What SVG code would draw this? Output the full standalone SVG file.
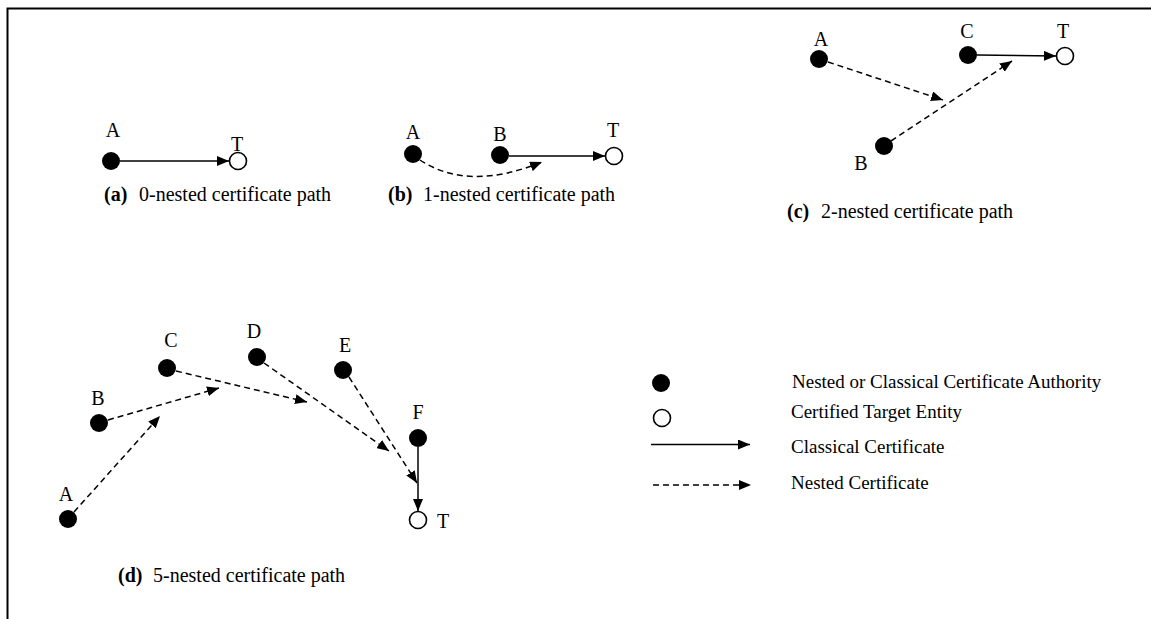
<svg xmlns="http://www.w3.org/2000/svg" width="1151" height="619" viewBox="0 0 1151 619">
  <style>
    text { font-family: "Liberation Serif", "Times New Roman", serif; fill: #000; }
    .lbl { font-size: 20px; text-anchor: middle; }
    .cap { font-size: 20px; }
    .cap .b { font-weight: bold; }
    .leg { font-size: 19px; }
    .ca { fill: #000; }
    .te { fill: #fff; stroke: #000; stroke-width: 1.6; }
    .classical { fill: none; stroke: #000; stroke-width: 1.5; marker-end: url(#head); }
    .nested { fill: none; stroke: #000; stroke-width: 1.5; stroke-dasharray: 6 4; marker-end: url(#head); }
    .frame { fill: none; stroke: #000; stroke-width: 2; }
  </style>
  <defs>
    <marker id="head" viewBox="0 0 12 10" refX="12" refY="5" markerWidth="12" markerHeight="10" markerUnits="userSpaceOnUse" orient="auto">
      <path d="M0,0 L12,5 L0,10 Z" fill="#000"/>
    </marker>
  </defs>

  <rect width="1151" height="619" fill="#fff"/>
  <!-- frame: top and left rules -->
  <path class="frame" d="M7.5,619 L7.5,8.5 L1151,8.5"/>

  <!-- (a) 0-nested path -->
  <g id="a-A"><circle class="ca" cx="111" cy="161" r="9"/><text class="lbl" x="113" y="137">A</text></g>
  <g id="a-T"><circle class="te" cx="238" cy="161" r="8.5"/><text class="lbl" x="237" y="151">T</text></g>
  <text id="cap-a" class="cap" x="104" y="201"><tspan class="b">(a)</tspan><tspan x="139">0-nested certificate path</tspan></text>

  <!-- (b) 1-nested path -->
  <g id="b-A"><circle class="ca" cx="413" cy="154" r="9"/><text class="lbl" x="413" y="139">A</text></g>
  <g id="b-B"><circle class="ca" cx="500" cy="155" r="9"/><text class="lbl" x="500" y="141">B</text></g>
  <g id="b-T"><circle class="te" cx="614" cy="156" r="8.5"/><text class="lbl" x="613" y="137">T</text></g>
  <text id="cap-b" class="cap" x="388" y="201"><tspan class="b">(b)</tspan><tspan x="423">1-nested certificate path</tspan></text>

  <!-- (c) 2-nested path -->
  <g id="c-A"><circle class="ca" cx="819" cy="59" r="9"/><text class="lbl" x="821" y="46">A</text></g>
  <g id="c-B"><circle class="ca" cx="884" cy="146" r="9"/><text class="lbl" x="861" y="170">B</text></g>
  <g id="c-C"><circle class="ca" cx="968" cy="55" r="9"/><text class="lbl" x="967" y="38">C</text></g>
  <g id="c-T"><circle class="te" cx="1065" cy="56" r="8.5"/><text class="lbl" x="1063" y="38">T</text></g>
  <text id="cap-c" class="cap" x="787" y="218"><tspan class="b">(c)</tspan><tspan x="821">2-nested certificate path</tspan></text>

  <!-- (d) 5-nested path -->
  <g id="d-A"><circle class="ca" cx="68" cy="519" r="9"/><text class="lbl" x="66" y="501">A</text></g>
  <g id="d-B"><circle class="ca" cx="99" cy="423" r="9"/><text class="lbl" x="98" y="405">B</text></g>
  <g id="d-C"><circle class="ca" cx="167" cy="368" r="9"/><text class="lbl" x="171" y="347">C</text></g>
  <g id="d-D"><circle class="ca" cx="257" cy="357" r="9"/><text class="lbl" x="254" y="338">D</text></g>
  <g id="d-E"><circle class="ca" cx="343" cy="370" r="9"/><text class="lbl" x="345" y="352">E</text></g>
  <g id="d-F"><circle class="ca" cx="418" cy="438" r="9"/><text class="lbl" x="418" y="419">F</text></g>
  <g id="d-T"><circle class="te" cx="418" cy="520" r="8.5"/><text class="lbl" x="443" y="528">T</text></g>
  <text id="cap-d" class="cap" x="118" y="582"><tspan class="b">(d)</tspan><tspan x="153">5-nested certificate path</tspan></text>

  <!-- legend -->
  <g id="legend">
    <circle class="ca" cx="661" cy="383" r="9"/>
    <text class="leg" x="792" y="388">Nested or Classical Certificate Authority</text>
    <circle class="te" cx="662" cy="418" r="8.5"/>
    <text class="leg" x="791" y="418">Certified Target Entity</text>
    <line class="classical" x1="651" y1="444.5" x2="750" y2="444.5"/>
    <text class="leg" x="791" y="453">Classical Certificate</text>
    <line class="nested" x1="653" y1="485" x2="751" y2="485"/>
    <text class="leg" x="791" y="489">Nested Certificate</text>
  </g>

  <!-- certificates -->
  <g id="connectors">
    <line class="classical" x1="120" y1="161" x2="229" y2="161"/>

    <path class="nested" d="M420,160 Q468,192 542,162"/>
    <line class="classical" x1="509" y1="156" x2="605" y2="156"/>

    <line class="nested" x1="828" y1="62" x2="943" y2="100"/>
    <line class="nested" x1="891" y1="141" x2="1012" y2="61"/>
    <line class="classical" x1="977" y1="55" x2="1056" y2="56"/>

    <line class="nested" x1="74" y1="512" x2="160" y2="416"/>
    <line class="nested" x1="108" y1="420" x2="219" y2="388"/>
    <line class="nested" x1="176" y1="371" x2="307" y2="402"/>
    <line class="nested" x1="264" y1="363" x2="389" y2="451"/>
    <line class="nested" x1="349" y1="377" x2="417" y2="483"/>
    <line class="classical" x1="418" y1="447" x2="418" y2="511"/>
  </g>
</svg>
